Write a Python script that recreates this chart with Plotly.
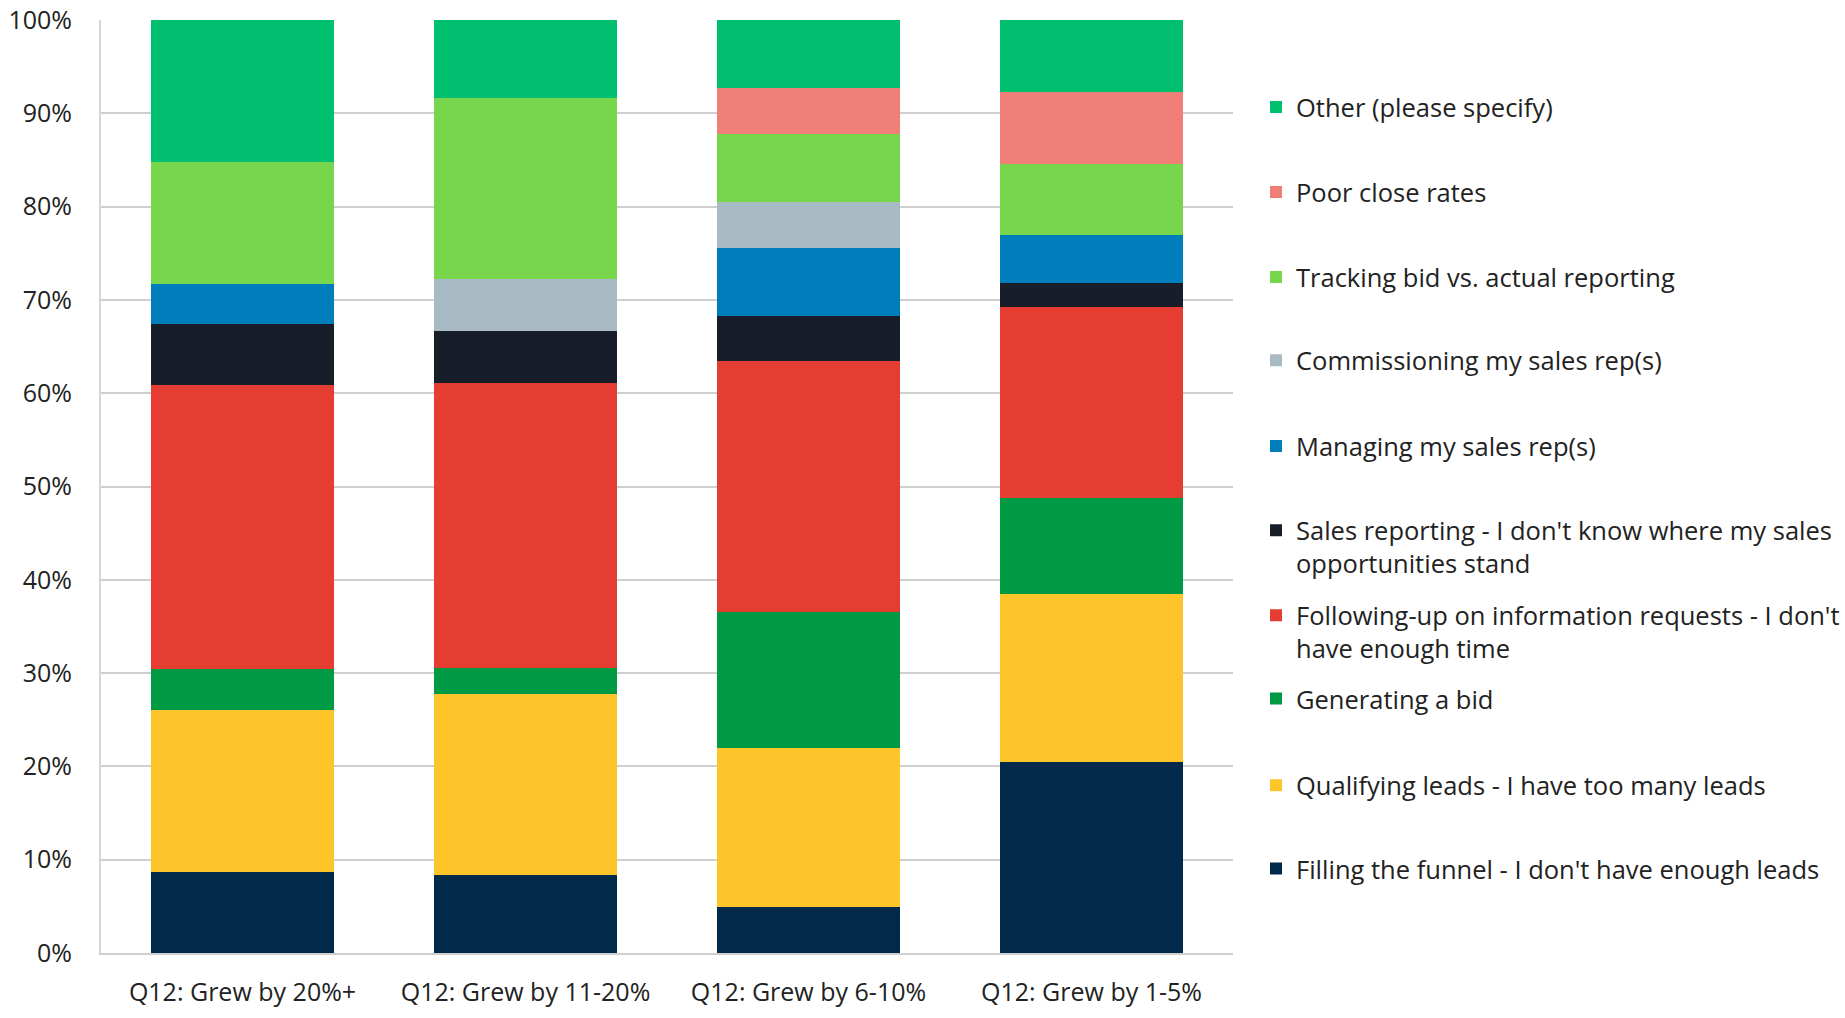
import plotly.graph_objects as go

# Growth bands (x categories)
categories = ["Q12: Grew by 20%+", "Q12: Grew by 11-20%", "Q12: Grew by 6-10%", "Q12: Grew by 1-5%"]

# Share of respondents (%) per biggest sales challenge, bottom to top of each stack
filling_funnel = [8.70, 8.33, 4.88, 20.51]
qualifying_leads = [17.39, 19.44, 17.07, 17.95]
generating_bid = [4.35, 2.78, 14.63, 10.26]
following_up = [30.43, 30.56, 26.83, 20.51]
sales_reporting = [6.52, 5.56, 4.88, 2.56]
managing_reps = [4.35, 0.0, 7.32, 5.13]
commissioning_reps = [0.0, 5.56, 4.88, 0.0]
tracking_bid = [13.04, 19.44, 7.32, 7.69]
poor_close = [0.0, 0.0, 4.88, 7.69]
other = [15.22, 8.33, 7.32, 7.69]

series_names = [
    "Filling the funnel - I don't have enough leads",
    "Qualifying leads - I have too many leads",
    "Generating a bid",
    "Following-up on information requests - I don't<br>have enough time",
    "Sales reporting - I don't know where my sales<br>opportunities stand",
    "Managing my sales rep(s)",
    "Commissioning my sales rep(s)",
    "Tracking bid vs. actual reporting",
    "Poor close rates",
    "Other (please specify)",
]
series_values = [
    filling_funnel, qualifying_leads, generating_bid, following_up, sales_reporting,
    managing_reps, commissioning_reps, tracking_bid, poor_close, other,
]
series_colors = [
    "#00294A", "#FDC52A", "#009A44", "#E53D31", "#171D29",
    "#007DBB", "#A8BAC4", "#77D64B", "#EF7F77", "#00BF6F",
]

y_tick_values = [0, 10, 20, 30, 40, 50, 60, 70, 80, 90, 100]
y_tick_labels = ["0%", "10%", "20%", "30%", "40%", "50%", "60%", "70%", "80%", "90%", "100%"]

FONT = "Open Sans"
TEXT = "#222222"

# plot area in pixels
W, H = 1845, 1018
L, R, T, B = 101, 612, 20, 65
plot_w = W - L - R
plot_h = H - T - B

# vertical centre (px) of each legend entry's first line, in stacking order
legend_line_px = [870, 786.7, 700, 616.7, 531.7, 447.3, 361.7, 278.3, 193.3, 108.3]
legend_left_px = 1256

fig = go.Figure()
layout_legends = {}
for i, (name, vals, col) in enumerate(zip(series_names, series_values, series_colors)):
    key = "legend" if i == 0 else f"legend{i + 1}"
    fig.add_trace(go.Bar(
        x=categories, y=vals, name=name,
        marker=dict(color=col, line=dict(width=0)),
        legend=key,
        hovertemplate="%{x}<br>%{y:.1f}%<extra></extra>",
    ))
    top_px = legend_line_px[i] - 24.5
    layout_legends[key] = dict(
        x=(legend_left_px - L) / plot_w,
        y=(H - B - top_px) / plot_h,
        xanchor="left", yanchor="top",
        valign="top",
        bgcolor="rgba(0,0,0,0)",
        borderwidth=0,
        itemwidth=30,
        font=dict(family=FONT, size=25.5, color=TEXT),
        itemclick=False, itemdoubleclick=False,
    )

fig.update_layout(
    width=W, height=H,
    margin=dict(l=L, r=R, t=T, b=B, pad=0, autoexpand=False),
    barmode="stack",
    bargap=0.355,
    plot_bgcolor="white",
    paper_bgcolor="white",
    font=dict(family=FONT, size=25, color=TEXT),
    showlegend=True,
    **layout_legends,
)

fig.update_yaxes(
    range=[0, 100],
    tickvals=y_tick_values,
    ticktext=y_tick_labels,
    showgrid=True, gridcolor="#CFCFCF", gridwidth=2,
    showline=True, linecolor="#D6D6D6", linewidth=2,
    zeroline=False,
    ticks="", ticklabelstandoff=22,
    tickfont=dict(family=FONT, size=25, color=TEXT),
    automargin=False,
    fixedrange=True,
)
fig.update_xaxes(
    showgrid=False,
    showline=True, linecolor="#CFCFCF", linewidth=2,
    ticks="", ticklabelstandoff=16,
    tickfont=dict(family=FONT, size=25, color=TEXT),
    automargin=False,
    fixedrange=True,
)

fig.write_html("out.html")
